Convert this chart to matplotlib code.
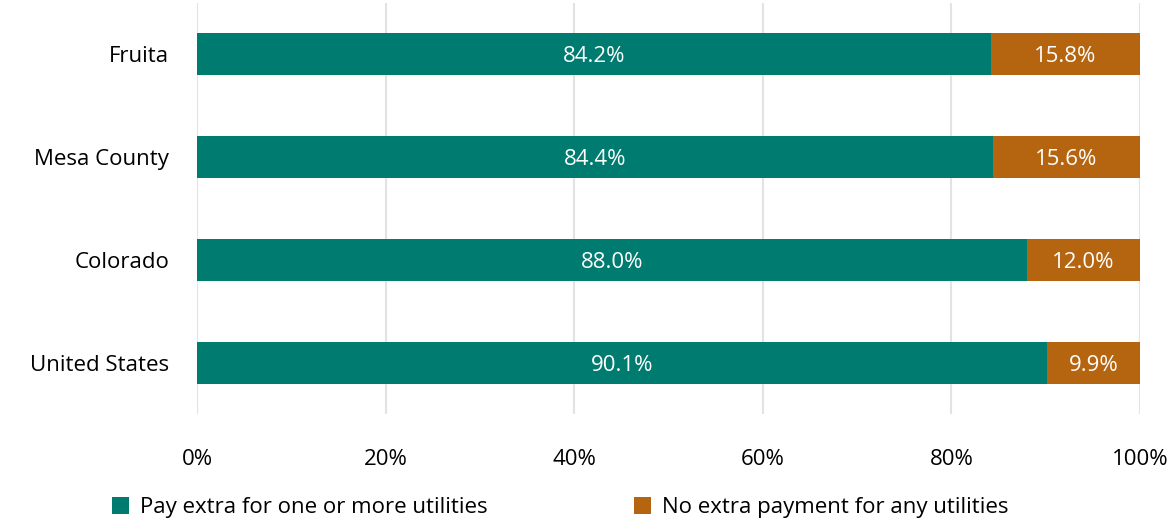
import matplotlib.pyplot as plt
import numpy as np

plt.rcParams['font.family'] = ['Open Sans', 'DejaVu Sans']

regions = ['Fruita', 'Mesa County', 'Colorado', 'United States']
pay_extra = [84.2, 84.4, 88.0, 90.1]
no_extra = [15.8, 15.6, 12.0, 9.9]
series_names = ['Pay extra for one or more utilities', 'No extra payment for any utilities']

teal = '#007B70'
orange = '#B5640F'
fs = 16

fig = plt.figure(figsize=(11.68, 5.2), dpi=100)
ax = fig.add_axes([0.1687, 0.203, 0.8073, 0.792])

y = np.arange(len(regions))
b1 = ax.barh(y, pay_extra, height=0.4, color=teal, label=series_names[0])
b2 = ax.barh(y, no_extra, left=pay_extra, height=0.4, color=orange, label=series_names[1])

for bars, vals in [(b1, pay_extra), (b2, no_extra)]:
    for rect, v in zip(bars, vals):
        cx = rect.get_x() + rect.get_width() / 2
        cy = rect.get_y() + rect.get_height() / 2
        ax.text(cx, cy + 0.02, f'{v:.1f}%', ha='center', va='center', color='white', fontsize=fs)

ax.set_xlim(0, 100)
ax.set_ylim(3.5, -0.5)
ax.set_yticks(y)
ax.set_yticklabels(regions, fontsize=fs)
ax.set_xticks(range(0, 101, 20))
ax.set_xticklabels([f'{t}%' for t in range(0, 101, 20)], fontsize=fs)
ax.tick_params(axis='both', length=0)
ax.tick_params(axis='x', pad=25)
ax.tick_params(axis='y', pad=20)
for s in ax.spines.values():
    s.set_visible(False)
ax.grid(axis='x', color='#e3e3e3', linewidth=1.5)
ax.set_axisbelow(True)

fig.legend(handles=[b1, b2], loc='lower left', bbox_to_anchor=(0.079, -0.035), ncol=2,
           frameon=False, fontsize=fs, handlelength=0.75, handleheight=0.75,
           handletextpad=0.5, columnspacing=6.6)

fig.savefig('out.png', dpi=100)
